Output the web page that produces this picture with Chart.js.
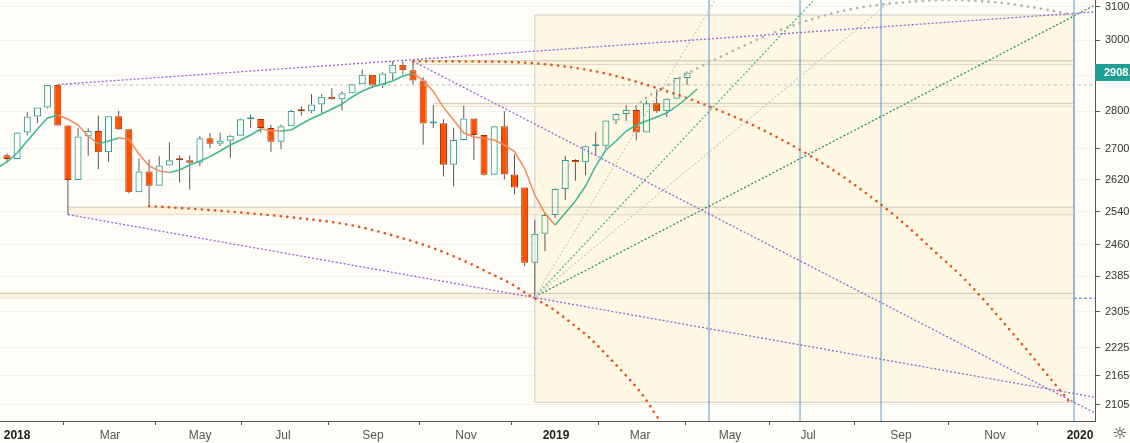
<!DOCTYPE html>
<html>
<head>
<meta charset="utf-8">
<script src="https://cdn.jsdelivr.net/npm/chart.js@4.4.1/dist/chart.umd.min.js"></script>
<style>
  html, body { margin: 0; padding: 0; background: #fffdf8; }
  #wrap { width: 1130px; height: 443px; }
</style>
</head>
<body>
<div id="wrap"><canvas id="chart"></canvas></div>
<script>
// weekly bars, x = week number counted from the week of 25 Dec 2017
const opens = [2683.3, 2673.6, 2743.2, 2786.2, 2810.3, 2872.9, 2762.1, 2619.6, 2732.2, 2747.3, 2691.3, 2786.6, 2752.0, 2588.3, 2640.9, 2604.5, 2656.3, 2670.1, 2669.9, 2663.4, 2727.7, 2713.0, 2721.3, 2734.6, 2779.0, 2779.7, 2754.9, 2718.4, 2759.8, 2801.3, 2800.5, 2818.8, 2840.4, 2833.3, 2850.1, 2874.7, 2901.5, 2871.7, 2905.0, 2929.7, 2914.0, 2885.6, 2767.1, 2767.8, 2658.7, 2723.1, 2781.0, 2736.3, 2632.6, 2760.2, 2633.1, 2600.0, 2416.6, 2485.7, 2531.9, 2596.3, 2670.7, 2664.8, 2706.5, 2707.9, 2775.6, 2792.7, 2803.7, 2743.1, 2822.5, 2800.7, 2834.4, 2892.7];
const highs = [2687.7, 2743.5, 2797.8, 2810.3, 2872.9, 2872.9, 2763.4, 2754.4, 2754.4, 2789.2, 2786.6, 2801.9, 2752.0, 2674.8, 2672.1, 2680.3, 2717.5, 2682.9, 2682.8, 2732.9, 2742.1, 2742.2, 2736.9, 2779.9, 2791.5, 2779.7, 2764.2, 2764.4, 2804.5, 2814.2, 2848.0, 2848.1, 2863.4, 2855.6, 2876.2, 2916.5, 2901.5, 2908.3, 2940.9, 2939.9, 2939.9, 2894.8, 2816.9, 2779.0, 2756.0, 2815.2, 2781.0, 2736.3, 2760.9, 2800.2, 2685.4, 2601.1, 2520.3, 2538.1, 2597.8, 2681.8, 2672.4, 2709.0, 2744.0, 2775.7, 2794.2, 2816.9, 2816.9, 2830.7, 2860.3, 2836.0, 2893.4, 2910.5];
const lows = [2664.3, 2673.6, 2736.1, 2768.6, 2808.1, 2760.0, 2532.7, 2619.6, 2681.8, 2647.3, 2666.5, 2750.0, 2585.9, 2588.3, 2553.8, 2604.5, 2656.3, 2612.7, 2594.6, 2655.2, 2701.9, 2707.4, 2676.8, 2734.6, 2755.2, 2742.9, 2692.0, 2699.0, 2759.8, 2789.2, 2795.0, 2795.1, 2830.9, 2802.5, 2850.1, 2874.7, 2864.1, 2864.1, 2886.2, 2903.3, 2874.0, 2710.5, 2755.0, 2628.2, 2603.5, 2722.0, 2670.8, 2631.1, 2632.6, 2621.5, 2583.2, 2408.6, 2336.0, 2444.0, 2524.6, 2569.0, 2617.3, 2631.0, 2681.0, 2701.0, 2766.0, 2775.0, 2722.3, 2743.1, 2796.0, 2785.0, 2834.4, 2873.0];
const closes = [2673.6, 2743.2, 2786.2, 2810.3, 2872.9, 2762.1, 2619.6, 2732.2, 2747.3, 2691.3, 2786.6, 2752.0, 2588.3, 2640.9, 2604.5, 2656.3, 2670.1, 2669.9, 2663.4, 2727.7, 2713.0, 2721.3, 2734.6, 2779.0, 2779.7, 2754.9, 2718.4, 2759.8, 2801.3, 2800.5, 2818.8, 2840.4, 2833.3, 2850.1, 2874.7, 2901.5, 2871.7, 2905.0, 2929.7, 2914.0, 2885.6, 2767.1, 2767.8, 2658.7, 2723.1, 2781.0, 2736.3, 2632.6, 2760.2, 2633.1, 2600.0, 2416.6, 2485.7, 2531.9, 2596.3, 2670.7, 2664.8, 2706.5, 2707.9, 2775.6, 2792.7, 2803.7, 2743.1, 2822.5, 2800.7, 2834.4, 2892.7, 2908.0];

// moving average, starting one week before the first bar
const maFirstWeek = -1;
const maValues = [2650.1, 2665.6, 2689.0, 2720.5, 2752.5, 2782.1, 2790.2, 2779.4, 2763.2, 2733.8, 2712.6, 2720.5, 2728.5, 2725.9, 2686.4, 2655.2, 2642.4, 2638.5, 2644.9, 2657.8, 2668.2, 2679.4, 2694.2, 2710.0, 2723.2, 2736.5, 2752.5, 2748.5, 2747.2, 2749.9, 2765.9, 2780.7, 2792.9, 2806.5, 2820.2, 2839.5, 2856.1, 2867.2, 2875.6, 2884.0, 2898.0, 2905.0, 2886.8, 2854.9, 2811.0, 2776.7, 2741.8, 2731.2, 2727.2, 2723.2, 2710.0, 2692.9, 2648.8, 2581.4, 2535.9, 2507.2, 2536.7, 2566.4, 2604.1, 2655.2, 2696.8, 2720.5, 2747.2, 2763.2, 2774.0, 2784.8, 2795.6, 2814.7, 2836.7, 2861.6];

// axis ticks
const xTickWeeks = [0.99, 10.15, 19.02, 27.19, 36.06, 45.22, 54.09, 62.37, 71.23, 78.92, 88.08, 97.34, 105.71];
const xTickLabels = ['2018', 'Mar', 'May', 'Jul', 'Sep', 'Nov', '2019', 'Mar', 'May', 'Jul', 'Sep', 'Nov', '2020'];
const yTicks = [2105, 2165, 2225, 2305, 2385, 2460, 2540, 2620, 2700, 2800, 2900, 3000, 3100];

// drawings (week, price)
const zoneWeeks = [52, 105.12];
const zonePrices = [3075.1, 2110.3];
const bandStarts = [40, 42, 6, -1];
const bandTops = [2941.4, 2822.1, 2551.0, 2346.0];
const bandBottoms = [2931.2, 2814.8, 2532.7, 2336.0];
const cycleWeeks = [69.16, 78.13, 86.11, 105.12];
const topTrend = [[5, 2874.0], [107.19, 3084.4]];
const highTrend = [[40, 2939.9], [107.19, 2088.4]];
const lowTrend = [[6, 2532.7], [107.19, 2120.5]];
const janHigh = 2872.9;
const decLevel = 2335.0;
const fanOrigin = [52, 2338.0];
const fanGreyEnds = [[69.77, 3120.3], [87.2, 3120.3]];
const fanGreenEnds = [[79.5, 3120.3], [107.19, 3105.1]];
const arcHigh = [[40, 2939.9], [45.62, 2939.2], [51.53, 2934.9], [58.13, 2910.2], [64.63, 2858.9], [69.26, 2812.8], [74.48, 2749.8], [79.41, 2677.3], [83.05, 2615.5], [87.98, 2519.4], [91.23, 2447.0], [94.58, 2372.8], [99.51, 2245.7], [102.76, 2160.7], [104.93, 2104.7]];
const arcLow = [[14, 2553.8], [19.01, 2545.8], [23.94, 2535.9], [28.87, 2523.6], [33.79, 2507.2], [39.01, 2475.0], [42.36, 2448.2], [45.62, 2415.1], [47.59, 2392.2], [49.56, 2369.1], [51.69, 2338.4], [53.66, 2312.2], [55.63, 2278.7], [57.44, 2245.7], [59.08, 2209.5], [60.72, 2171.9], [62.3, 2134.2], [63.35, 2103.3], [64.33, 2072.8], [65.1, 2055.0]];
const arcTop = [[61.97, 2812.0], [62.66, 2831.2], [64.63, 2864.4], [67.29, 2909.3], [69.26, 2937.7], [71.92, 2975.1], [74.48, 3010.0], [77.83, 3048.3], [81.08, 3078.1], [84.33, 3099.1], [87.68, 3111.2], [90.94, 3118.7], [92.91, 3120.3], [95.86, 3117.3], [98.82, 3108.1], [101.77, 3094.6], [105.12, 3075.1]];

const X_MIN = -0.69, X_MAX = 107.19;
const Y_MIN = 2072.2, Y_MAX = 3120.3;

const BG = '#fffdf8';
const UP = '#2a9d94', DOWN = '#ff5000', DOWN_EDGE = '#a33000', WICK = '#5a5a5a';
const MA_UP = '#3bb896', MA_DOWN = '#f28a5a';
const PURPLE = '#9a62d8', ORANGE_DOT = '#e2561a', GREY_DOT = '#b3b3b3';
const FONT = '"Liberation Sans", Arial, sans-serif';

const datasets = [];

function addLine(points, style, order) {
  datasets.push(Object.assign({
    type: 'line',
    data: points.map(p => ({ x: p[0], y: p[1] })),
    pointRadius: 0,
    fill: false,
    clip: 0,
    order: order
  }, style));
}

// shaded zone after the December low
addLine([[zoneWeeks[0], zonePrices[0]], [zoneWeeks[1], zonePrices[0]]],
  { borderWidth: 0, fill: { value: zonePrices[1] }, backgroundColor: '#fdf7e4' }, 100);
addLine([[zoneWeeks[0], zonePrices[0]], [zoneWeeks[1], zonePrices[0]], [zoneWeeks[1], zonePrices[1]],
  [zoneWeeks[0], zonePrices[1]], [zoneWeeks[0], zonePrices[0]]],
  { borderColor: '#d3cdc0', borderWidth: 1 }, 99);

// thin price bands
bandStarts.forEach((start, i) => {
  addLine([[start, bandTops[i]], [zoneWeeks[1], bandTops[i]]],
    { borderColor: '#cfc8b8', borderWidth: 1, fill: { value: bandBottoms[i] }, backgroundColor: '#fbf3de' }, 98);
  addLine([[start, bandBottoms[i]], [zoneWeeks[1], bandBottoms[i]]],
    { borderColor: '#cfc8b8', borderWidth: 1 }, 98);
});

// candles: wicks split around the body so hollow bodies stay hollow
const upperWicks = [], lowerWicks = [], bodies = [];
closes.forEach((c, i) => {
  const top = Math.max(opens[i], c), bottom = Math.min(opens[i], c);
  upperWicks.push({ x: i, y: [top, highs[i]] });
  lowerWicks.push({ x: i, y: [lows[i], bottom] });
  bodies.push({ x: i, y: [opens[i], c] });
});
const isUp = i => closes[i] >= opens[i];

[upperWicks, lowerWicks].forEach(w => {
  datasets.push({
    type: 'bar', data: w, grouped: false, barThickness: 1,
    backgroundColor: WICK, borderWidth: 0, inflateAmount: 0, clip: 0, order: 70
  });
});
datasets.push({
  type: 'bar', data: bodies, grouped: false, barThickness: 7, minBarLength: 2,
  backgroundColor: ctx => isUp(ctx.dataIndex) ? 'rgba(0,0,0,0)' : DOWN,
  borderColor: ctx => isUp(ctx.dataIndex) ? UP : DOWN_EDGE,
  borderWidth: 1, borderSkipped: false, inflateAmount: 0, clip: 0, order: 60
});

// moving average, coloured by direction
addLine(maValues.map((v, i) => [maFirstWeek + i, v]), {
  borderWidth: 1.5,
  segment: { borderColor: ctx => ctx.p1.parsed.y >= ctx.p0.parsed.y ? MA_UP : MA_DOWN }
}, 20);

// vertical cycle lines
cycleWeeks.forEach(w => addLine([[w, Y_MIN], [w, Y_MAX]], { borderColor: '#5b9bd0', borderWidth: 1 }, 30));

// horizontal levels
addLine([[5, janHigh], [X_MAX, janHigh]], { borderColor: '#bdbdbd', borderWidth: 1, borderDash: [3, 3] }, 30);
addLine([[zoneWeeks[1], decLevel], [X_MAX, decLevel]], { borderColor: '#3d7dd8', borderWidth: 1, borderDash: [3, 2] }, 30);

// trend lines
const dotted = { borderWidth: 1.3, borderDash: [2, 2] };
[topTrend, highTrend, lowTrend].forEach(t => addLine(t, Object.assign({ borderColor: PURPLE }, dotted), 25));

// fan from the December low
fanGreyEnds.forEach(e => addLine([fanOrigin, e], Object.assign({ borderColor: '#cbcbcb' }, dotted), 26));
addLine([fanOrigin, fanGreenEnds[0]], Object.assign({ borderColor: '#4fb58c' }, dotted), 26);
addLine([fanOrigin, fanGreenEnds[1]], Object.assign({ borderColor: '#2f8f5b' }, dotted), 26);

// arcs
const bigDots = { borderWidth: 2.6, borderDash: [0.1, 6.5], borderCapStyle: 'round', cubicInterpolationMode: 'monotone' };
addLine(arcHigh, Object.assign({ borderColor: ORANGE_DOT }, bigDots), 22);
addLine(arcLow, Object.assign({ borderColor: ORANGE_DOT }, bigDots), 22);
addLine(arcTop, Object.assign({ borderColor: GREY_DOT }, bigDots), 22);

const paper = {
  id: 'paper',
  beforeDraw(c) {
    const g = c.ctx;
    g.save();
    g.fillStyle = BG;
    g.fillRect(0, 0, c.width, c.height);
    g.restore();
  }
};

const lastPrice = {
  id: 'lastPrice',
  afterDraw(c) {
    const g = c.ctx;
    const last = closes[closes.length - 1];
    const y = c.scales.y.getPixelForValue(last);
    const x = c.chartArea.right;
    g.save();
    g.fillStyle = '#1f9e92';
    g.fillRect(x, Math.round(y) - 8, c.width - x, 17);
    g.fillStyle = '#ffffff';
    g.font = 'bold 11px ' + FONT;
    g.textBaseline = 'middle';
    g.fillText(last.toFixed(2), x + 9, y + 0.5);
    // settings icon in the corner
    g.fillStyle = '#333';
    g.font = '17px "DejaVu Sans"';
    g.textAlign = 'center';
    g.fillText('\u263C', c.width - 10, c.chartArea.bottom + 14);
    g.restore();
  }
};

new Chart(document.getElementById('chart'), {
  type: 'line',
  data: { datasets },
  options: {
    responsive: true,
    maintainAspectRatio: false,
    animation: false,
    events: [],
    layout: { padding: 0 },
    plugins: { legend: { display: false }, tooltip: { enabled: false } },
    scales: {
      x: {
        type: 'linear', min: X_MIN, max: X_MAX, offset: false,
        afterBuildTicks: s => { s.ticks = xTickWeeks.map(v => ({ value: v })); },
        afterFit: s => { s.height = 22; s.paddingLeft = 0; s.paddingRight = 0; },
        ticks: {
          autoSkip: false, maxRotation: 0, padding: 3,
          color: ctx => /^\d{4}$/.test(xTickLabels[ctx.index]) ? '#222' : '#555',
          font: ctx => ({ family: FONT, size: 12, weight: /^\d{4}$/.test(xTickLabels[ctx.index]) ? 'bold' : 'normal' }),
          callback: (v, i) => xTickLabels[i]
        },
        grid: { drawOnChartArea: false, tickLength: 4, tickColor: '#555' },
        border: { color: '#555' }
      },
      y: {
        type: 'logarithmic', position: 'right', min: Y_MIN, max: Y_MAX,
        afterBuildTicks: s => { s.ticks = yTicks.map(v => ({ value: v })); },
        afterFit: s => { s.width = 35; s.paddingTop = 0; s.paddingBottom = 0; },
        ticks: {
          autoSkip: false, padding: 5, color: '#333',
          font: { family: FONT, size: 11 },
          callback: v => Number(v).toFixed(2)
        },
        grid: { color: 'rgba(0,0,0,0.045)', tickLength: 5, tickColor: '#555' },
        border: { color: '#555' }
      }
    }
  },
  plugins: [paper, lastPrice]
});
</script>
</body>
</html>
